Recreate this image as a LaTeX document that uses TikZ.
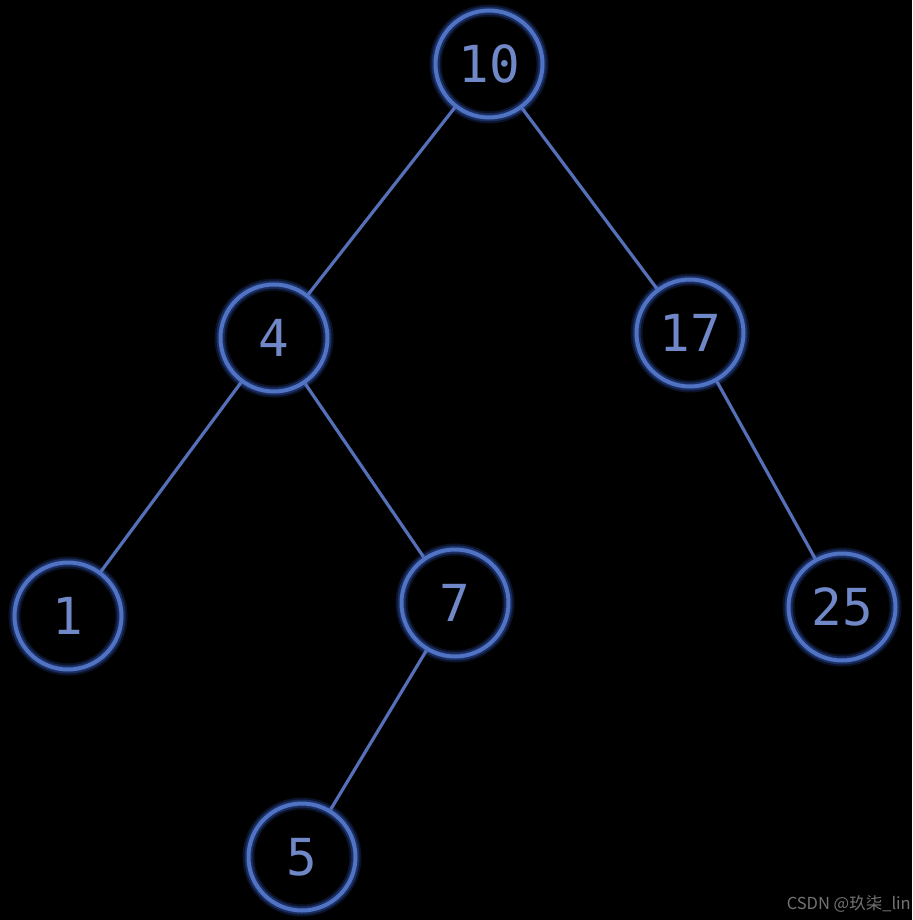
\documentclass[tikz,border=0pt]{standalone}
\usepackage{fontspec}
\setmonofont{DejaVu Sans Mono}
\newfontfamily\cjk{Noto Sans CJK SC}
\definecolor{ring}{HTML}{5173C4}
\definecolor{glow}{HTML}{2E4FA8}
\definecolor{digit}{HTML}{7088C8}
\definecolor{edgec}{HTML}{5570B8}
\begin{document}
\begin{tikzpicture}[x=1pt,y=-1pt,
  treenode/.style={circle,minimum size=107pt,inner sep=0pt,
    text=digit,font=\ttfamily\fontsize{51}{51}\selectfont,
    preaction={draw=glow,line width=12pt,opacity=0.25},
    preaction={draw=glow,line width=8pt,opacity=0.45},
    draw=ring,line width=4pt},
  link/.style={draw=edgec,line width=3.2pt}]
\fill[black] (0,0) rectangle (912,920);
\useasboundingbox (0,0) rectangle (912,920);
\node[treenode] (n10) at (489,64) {10};
\node[treenode] (n4) at (274,338) {4};
\node[treenode] (n17) at (690,333) {17};
\node[treenode] (n1) at (68,616) {1};
\node[treenode] (n7) at (455,603) {7};
\node[treenode] (n25) at (842,607) {25};
\node[treenode] (n5) at (302,857) {5};
\draw[link] (n10) -- (n4);
\draw[link] (n10) -- (n17);
\draw[link] (n4) -- (n1);
\draw[link] (n4) -- (n7);
\draw[link] (n17) -- (n25);
\draw[link] (n7) -- (n5);
\node[anchor=east,text=gray!110,font=\cjk\fontsize{16.5}{16.5}\selectfont,inner sep=0pt] (wm) at (911,904) {CSDN @玖柒\_lin};
\end{tikzpicture}
\end{document}
